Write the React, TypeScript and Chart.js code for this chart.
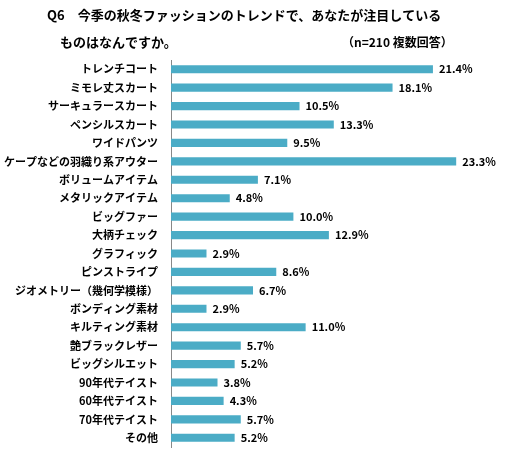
import { useEffect, useRef } from "react";
import { Chart, registerables } from "chart.js";

Chart.register(...registerables);

const categories = [
  "トレンチコート",
  "ミモレ丈スカート",
  "サーキュラースカート",
  "ペンシルスカート",
  "ワイドパンツ",
  "ケープなどの羽織り系アウター",
  "ボリュームアイテム",
  "メタリックアイテム",
  "ビッグファー",
  "大柄チェック",
  "グラフィック",
  "ピンストライプ",
  "ジオメトリー（幾何学模様）",
  "ボンディング素材",
  "キルティング素材",
  "艶ブラックレザー",
  "ビッグシルエット",
  "90年代テイスト",
  "60年代テイスト",
  "70年代テイスト",
  "その他"
];

const percents = [
  21.4, 18.1, 10.5, 13.3, 9.5, 23.3, 7.1, 4.8, 10.0, 12.9, 2.9, 8.6, 6.7, 2.9,
  11.0, 5.7, 5.2, 3.8, 4.3, 5.7, 5.2
];

const titleLine1 = "Q6　今季の秋冬ファッションのトレンドで、あなたが注目している";
const titleLine2 = "ものはなんですか。";
const sampleNote = "（n=210 複数回答）";

const FONT = '"Noto Sans CJK JP", "Noto Sans", sans-serif';

// value labels at the end of each bar
const valueLabels = {
  id: "valueLabels",
  afterDatasetsDraw(chart: Chart) {
    const ctx = chart.ctx;
    const meta = chart.getDatasetMeta(0);
    ctx.save();
    ctx.font = `bold 11px ${FONT}`;
    ctx.fillStyle = "#000";
    ctx.textBaseline = "middle";
    ctx.textAlign = "left";
    meta.data.forEach((bar: any, i: number) => {
      ctx.fillText(percents[i].toFixed(1) + "%", bar.x + 6, bar.y);
    });
    ctx.restore();
  }
};

// question title above the plot
const questionTitle = {
  id: "questionTitle",
  afterDraw(chart: Chart) {
    const ctx = chart.ctx;
    ctx.save();
    ctx.font = `bold 13px ${FONT}`;
    ctx.fillStyle = "#000";
    ctx.textBaseline = "middle";
    ctx.textAlign = "left";
    ctx.fillText(titleLine1, 47, 15);
    ctx.fillText(titleLine2, 60, 42);
    ctx.font = `bold 12px ${FONT}`;
    ctx.fillText(sampleNote, 342, 42);
    ctx.restore();
  }
};

export default function App() {
  const chartRef = useRef<HTMLCanvasElement | null>(null);

  useEffect(() => {
    if (!chartRef.current) return;
    document.body.style.margin = "0";

    const chart = new Chart(chartRef.current, {
      type: "bar",
      data: {
        labels: categories,
        datasets: [
          {
            data: percents,
            backgroundColor: "#4BACC6",
            barPercentage: 0.88,
            categoryPercentage: 0.5
          }
        ]
      },
      options: {
        indexAxis: "y",
        responsive: false,
        animation: false,
        layout: { padding: { top: 60, right: 29, bottom: 5, left: 0 } },
        plugins: {
          legend: { display: false },
          tooltip: { enabled: false }
        },
        scales: {
          x: {
            min: 0,
            max: 25,
            display: false
          },
          y: {
            grid: { display: false, drawTicks: false },
            border: { display: true, color: "#888", width: 1 },
            afterFit: (scale: any) => {
              scale.width = 171;
              // drop the extra vertical padding that tick padding adds
              scale.paddingTop = 0;
              scale.paddingBottom = 0;
            },
            ticks: {
              padding: 13,
              color: "#000",
              font: { family: FONT, size: 11, weight: "bold" }
            }
          }
        }
      },
      plugins: [valueLabels, questionTitle]
    });

    return () => chart.destroy();
  }, []);

  return (
    <div style={{ width: 506, height: 452, background: "#fff" }}>
      <canvas ref={chartRef} width={506} height={452} />
    </div>
  );
}
